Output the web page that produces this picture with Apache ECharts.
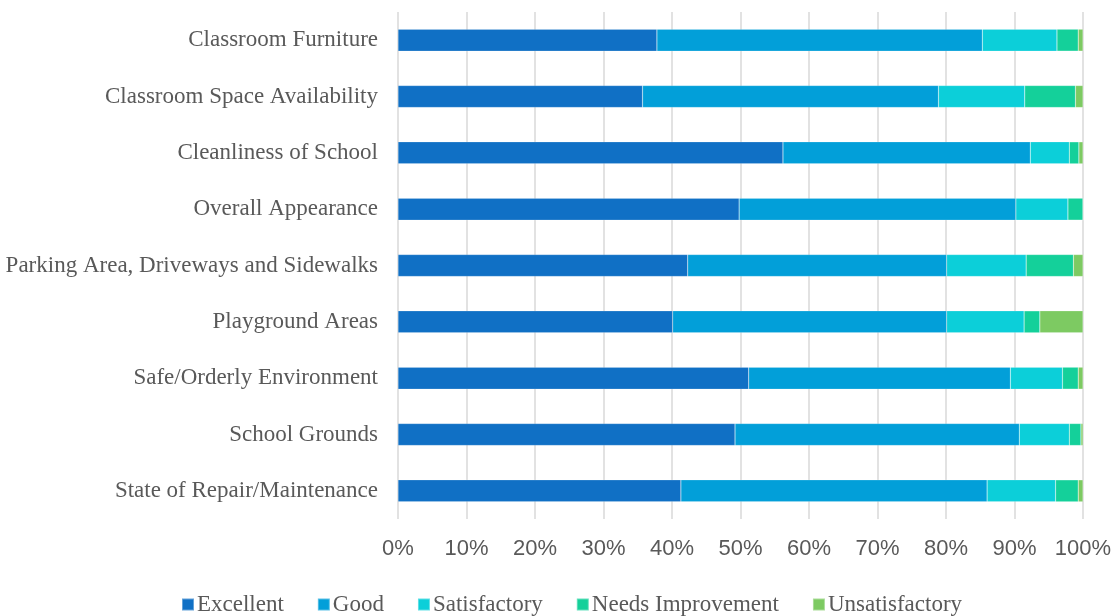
<!DOCTYPE html>
<html>
<head>
<meta charset="utf-8">
<script src="https://cdn.jsdelivr.net/npm/echarts@6/dist/echarts.min.js"></script>
<style>
  html, body { margin: 0; padding: 0; background: #fff; }
  #chart { width: 1116px; height: 616px; }
</style>
</head>
<body>
<div id="chart"></div>
<script>
// categories, top to bottom
const categories = [
  "Classroom Furniture",
  "Classroom Space Availability",
  "Cleanliness of School",
  "Overall Appearance",
  "Parking Area, Driveways and Sidewalks",
  "Playground Areas",
  "Safe/Orderly Environment",
  "School Grounds",
  "State of Repair/Maintenance"
];
// percent shares
const excellent     = [37.8, 35.7, 56.2, 49.8, 42.3, 40.1, 51.2, 49.2, 41.3];
const good          = [47.5, 43.2, 36.1, 40.4, 37.8, 40.0, 38.2, 41.5, 44.7];
const satisfactory  = [10.9, 12.6, 5.7, 7.6, 11.6, 11.3, 7.6, 7.3, 10.0];
const needsImprove  = [3.1, 7.4, 1.4, 2.2, 6.9, 2.3, 2.3, 1.7, 3.3];
const unsatisfactory = [0.7, 1.1, 0.6, 0.0, 1.4, 6.3, 0.7, 0.3, 0.7];
const xTicks = [0, 10, 20, 30, 40, 50, 60, 70, 80, 90, 100];

const seriesDefs = [
  { name: "Excellent", data: excellent, color: "#1070c5" },
  { name: "Good", data: good, color: "#029fd9" },
  { name: "Satisfactory", data: satisfactory, color: "#0ccfd9" },
  { name: "Needs Improvement", data: needsImprove, color: "#14d09a" },
  { name: "Unsatisfactory", data: unsatisfactory, color: "#7dca62" }
];

const chart = echarts.init(document.getElementById("chart"), null, { renderer: "canvas" });

const option = {
  animation: false,
  grid: { left: 398, right: 33, top: 12, bottom: 97, containLabel: false },
  legend: {
    top: 588,
    left: 176,
    itemWidth: 12,
    itemHeight: 12,
    itemGap: 33,
    icon: "rect",
    textStyle: { fontFamily: "Liberation Serif", fontSize: 23, color: "#595959", padding: [0, 0, 0, -2] },
    data: seriesDefs.map(s => s.name)
  },
  xAxis: {
    type: "value",
    min: 0,
    max: 100,
    interval: 10,
    axisLine: { show: false },
    axisTick: { show: false },
    splitLine: { show: true, lineStyle: { color: "#d9d9d9", width: 1.5 } },
    axisLabel: {
      formatter: v => xTicks.includes(v) ? v + "%" : "",
      fontFamily: "Liberation Sans",
      fontSize: 22,
      color: "#595959",
      margin: 19
    }
  },
  yAxis: {
    type: "category",
    inverse: true,
    data: categories,
    axisLine: { show: false },
    axisTick: { show: false },
    axisLabel: {
      fontFamily: "Liberation Serif",
      fontSize: 23,
      color: "#595959",
      margin: 20
    }
  },
  series: seriesDefs.map(s => ({
    name: s.name,
    type: "bar",
    stack: "total",
    barWidth: 22,
    data: s.data,
    itemStyle: { color: s.color, borderColor: "rgba(255,255,255,0.35)", borderWidth: 0.5 }
  }))
};

chart.setOption(option);
</script>
</body>
</html>
